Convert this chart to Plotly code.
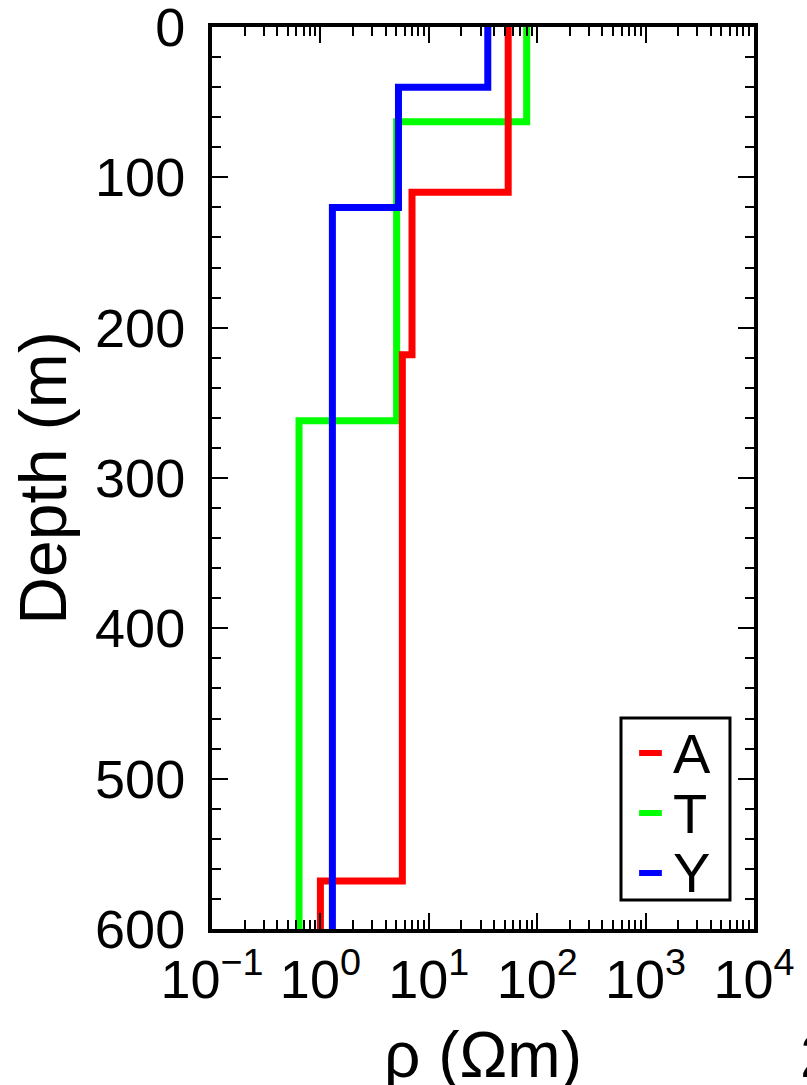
import plotly.graph_objects as go

# Layered resistivity models: resistivity of each layer (ohm-m) and the
# depths (m) of the interfaces between consecutive layers.
series_names = ["A", "T", "Y"]
series_colors = ["#ff0000", "#00ff00", "#0000ff"]

rho_A = [54, 7.0, 5.7, 1.0]
depth_A = [110, 218, 568]

rho_T = [80, 5.05, 0.635]
depth_T = [63, 262]

rho_Y = [35, 5.25, 1.29]
depth_Y = [40, 120]

max_depth = 600
x_tick_exponents = [-1, 0, 1, 2, 3, 4]
y_tick_values = [0, 100, 200, 300, 400, 500, 600]

FONT = "Liberation Sans, Arial, Helvetica, sans-serif"

models = {
    "A": (rho_A, depth_A),
    "T": (rho_T, depth_T),
    "Y": (rho_Y, depth_Y),
}
colors = dict(zip(series_names, series_colors))

fig = go.Figure()

# drawing order: T underneath, then A, then Y on top
for name in ["T", "A", "Y"]:
    rho, depth = models[name]
    xs = list(rho) + [rho[-1]]
    ys = [0] + list(depth) + [max_depth]
    fig.add_trace(go.Scatter(
        x=xs, y=ys, mode="lines", name=name,
        line=dict(color=colors[name], width=7, shape="vh"),
        showlegend=False,
    ))

minor_x = [m * 10 ** e for e in x_tick_exponents[:-1] for m in range(2, 10)]
tick_text = [f"10<sup>{'−' if e < 0 else ''}{abs(e)}</sup>" for e in x_tick_exponents]

fig.update_xaxes(
    type="log",
    range=[x_tick_exponents[0], x_tick_exponents[-1]],
    tickmode="array",
    tickvals=[10 ** e for e in x_tick_exponents],
    ticktext=tick_text,
    ticks="inside", ticklen=16, tickwidth=2, tickcolor="black",
    minor=dict(tickmode="array", tickvals=minor_x, ticks="inside",
               ticklen=9, tickwidth=2, tickcolor="black"),
    showline=True, linewidth=4, linecolor="black", mirror="allticks",
    showgrid=False, zeroline=False,
    automargin=False,
    ticklabeloverflow="allow",
    tickfont=dict(family=FONT, size=54, color="black"),
)

fig.update_yaxes(
    range=[max_depth, 0],
    tickmode="array", tickvals=y_tick_values,
    ticks="inside", ticklen=16, tickwidth=2, tickcolor="black",
    minor=dict(dtick=20, tick0=0, ticks="inside", ticklen=9,
               tickwidth=2, tickcolor="black"),
    showline=True, linewidth=4, linecolor="black", mirror="allticks",
    showgrid=False, zeroline=False,
    automargin=False,
    ticklabeloverflow="allow",
    tickfont=dict(family=FONT, size=54, color="black"),
    ticklabelstandoff=12,
    title=dict(text="Depth (m)", font=dict(family=FONT, size=66, color="black"),
               standoff=8),
)

annotations = []

# x-axis title, placed below the tick labels
annotations.append(dict(text="ρ (Ωm)", xref="paper", yref="paper",
                        x=0.5, y=-0.14, xanchor="center", yanchor="middle",
                        showarrow=False,
                        font=dict(family=FONT, size=64, color="black")))

# legend box drawn in paper coordinates
shapes = [dict(type="rect", xref="paper", yref="paper",
               x0=0.7546, x1=0.9557, y0=0.0322, y1=0.2339,
               line=dict(color="black", width=3), fillcolor="white", layer="above")]
legend_y = [0.1951, 0.1286, 0.0621]
for name, yy in zip(series_names, legend_y):
    shapes.append(dict(type="line", xref="paper", yref="paper",
                       x0=0.788, x1=0.830, y0=yy, y1=yy,
                       line=dict(color=colors[name], width=6), layer="above"))
    annotations.append(dict(text=name, xref="paper", yref="paper",
                            x=0.846, y=yy, xanchor="left", yanchor="middle",
                            showarrow=False,
                            font=dict(family=FONT, size=56, color="black")))

# panel number of the neighbouring figure, cut by the page edge
annotations.append(dict(text="2", xref="paper", yref="paper",
                        x=1.081, y=-0.14, xanchor="left", yanchor="middle",
                        showarrow=False,
                        font=dict(family=FONT, size=62, color="black")))

fig.update_layout(
    width=807, height=1085,
    margin=dict(l=212, r=53, t=27, b=156),
    plot_bgcolor="white", paper_bgcolor="white",
    shapes=shapes, annotations=annotations,
    showlegend=False,
)

fig.write_html("out.html")
